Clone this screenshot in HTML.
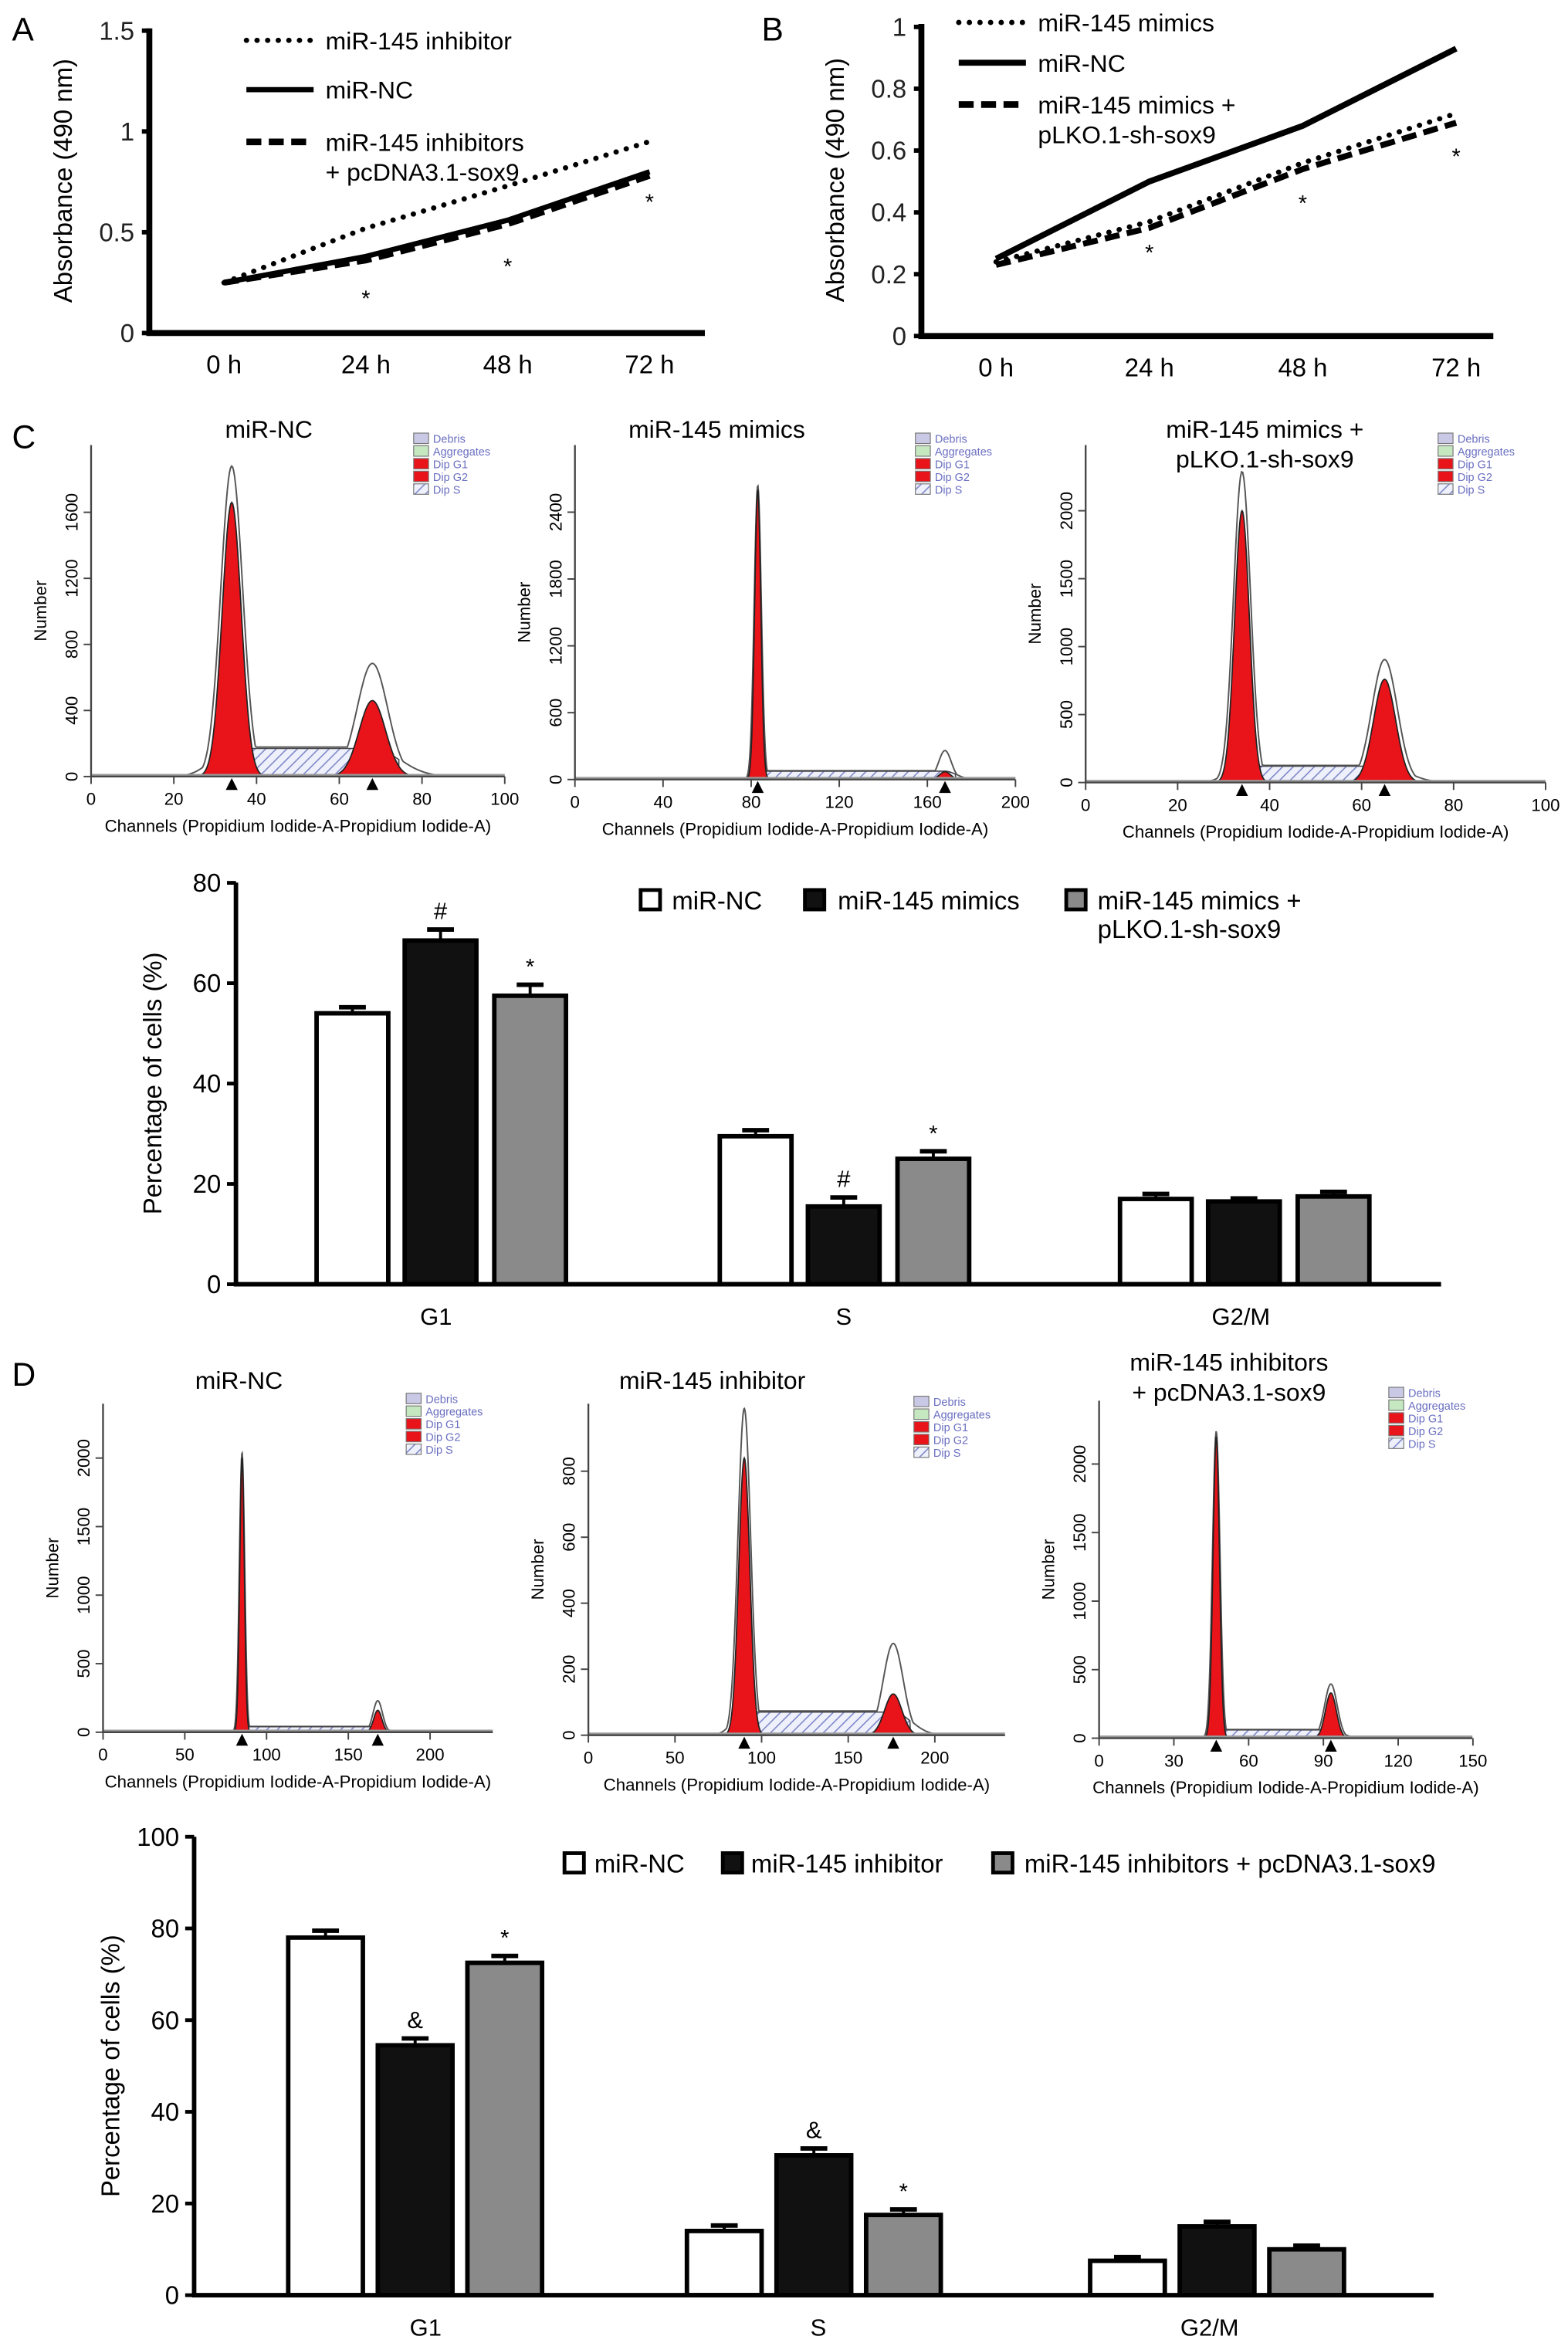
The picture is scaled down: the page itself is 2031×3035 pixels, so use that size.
<!DOCTYPE html>
<html><head><meta charset="utf-8"><style>
html,body{margin:0;padding:0;background:#fff}
svg{display:block;font-family:"Liberation Sans",Arial,sans-serif}
</style></head><body>
<svg id="fig" width="2031" height="3035" viewBox="0 0 1050 1569" xmlns="http://www.w3.org/2000/svg">
<defs>
<pattern id="hatch" width="5" height="5" patternUnits="userSpaceOnUse" patternTransform="rotate(45)">
<rect width="5" height="5" fill="#eef0fb"/><line x1="0" y1="0" x2="0" y2="5" stroke="#7d86c8" stroke-width="1.6"/></pattern>
</defs>
<g id="root"></g>
</svg>
<script>
// ---------- Data ----------
const timeLabels = ['0 h','24 h','48 h','72 h'];
const aInhibitor = [0.25,0.52,0.73,0.95];
const aNC = [0.25,0.38,0.56,0.80];
const aInhibSox9 = [0.25,0.36,0.54,0.78];
const aTicks = [0,0.5,1,1.5];
const aTickLabels = ['0','0.5','1','1.5'];
const bMimics = [0.24,0.37,0.56,0.72];
const bNC = [0.25,0.50,0.68,0.93];
const bMimicsSh = [0.23,0.35,0.54,0.69];
const bTicks = [0,0.2,0.4,0.6,0.8,1];
const bTickLabels = ['0','0.2','0.4','0.6','0.8','1'];
const phases = ['G1','S','G2/M'];
const cNC = [54,29.5,17];
const cMimics = [68.5,15.5,16.5];
const cMimicsSh = [57.5,25,17.5];
const cErr = [[1.2,2.2,2.2],[1.2,1.8,1.5],[1,0.6,0.9]];
const cMarks = [['','#','*'],['','#','*'],['','','']];
const cTicks = [0,20,40,60,80];
const dNC = [78,14,7.5];
const dInhib = [54.5,30.5,15];
const dInhibSox9 = [72.5,17.5,10];
const dErr = [[1.5,1.5,1.5],[1.2,1.5,1.2],[0.8,1,0.8]];
const dMarks = [['','&','*'],['','&','*'],['','','']];
const dTicks = [0,20,40,60,80,100];
// histogram params [G1 ch, G1 fit count, G1 sd, G2 ch, G2 fit count, G2 sd, S level, G1 raw peak, G2 raw peak]
const hC1 = [34,1660,2.3,68,460,3.2,170,1880,685];
const hC2 = [83,2600,1.4,168,70,2.5,75,2640,260];
const hC3 = [34,2000,1.6,65,760,2.4,120,2290,905];
const hD1 = [85,2000,1.4,168,160,2.5,40,2040,230];
const hD2 = [90,840,3.2,176,125,5,70,990,278];
const hD3 = [47,2200,1.3,93,330,2.2,60,2240,395];

const NS='http://www.w3.org/2000/svg';
const root=document.getElementById('root');
function mk(tag,attrs,parent,txt){const e=document.createElementNS(NS,tag);for(const k in attrs)e.setAttribute(k,attrs[k]);if(txt!==undefined)e.textContent=txt;(parent||root).appendChild(e);return e;}
function txt(x,y,s,size,name,extra){const e=mk('text',Object.assign({x:x,y:y,'font-size':size},extra||{}),root,s);


return e;}

[['A',8,27],['B',510,27],['C',8,300],['D',8,928]].forEach(p=>{txt(p[1],p[2],p[0],22,'panel-label-'+p[0].toLowerCase());});

// ---------- Line charts ----------
function lineChart(cfg){
 const xs=i=>cfg.x0+i*cfg.dx; const ys=v=>cfg.y0-v*cfg.ppu;
 const ax=mk('path',{d:`M${cfg.ax} ${cfg.top} V${cfg.y0} H${cfg.xend}`,fill:'none',stroke:'#000','stroke-width':4});
 
 
 cfg.ticks.forEach((t,i)=>{mk('line',{x1:cfg.ax-5,x2:cfg.ax,y1:ys(t),y2:ys(t),stroke:'#000','stroke-width':3});
  txt(cfg.ax-10,ys(t)+6,cfg.tickLabels[i],17,cfg.id+'-y-tick',{'text-anchor':'end',fill:'#222'});});
 timeLabels.forEach((l,i)=>txt(xs(i),cfg.y0+27,l,17,cfg.id+'-x-tick',{'text-anchor':'middle'}));
 txt(0,0,'Absorbance (490 nm)',17,cfg.id+'-y-axis-title',{'text-anchor':'middle',transform:`translate(${cfg.ax-52},${(cfg.top+cfg.y0)/2}) rotate(-90)`});
 cfg.series.forEach(s=>{
  const pts=s.v.map((v,i)=>xs(i)+','+ys(v)).join(' ');
  const a={points:pts,fill:'none',stroke:'#000','stroke-width':s.w,'stroke-linecap':s.cap||'butt'};
  if(s.dash)a['stroke-dasharray']=s.dash;
  const pl=mk('polyline',a);
  
  
 });
 cfg.stars.forEach(st=>txt(xs(st[0]),ys(st[1])+5,'*',15,cfg.id+'-significance',{'text-anchor':'middle'}));
 cfg.legend.forEach(l=>{const a={x1:l.x,x2:l.x+45,y1:l.y,y2:l.y,stroke:'#000','stroke-width':l.w,'stroke-linecap':l.cap||'butt'};if(l.dash)a['stroke-dasharray']=l.dash;
  const ln=mk('line',a);
  
  
  l.t.forEach((t,j)=>txt(l.x+53,l.y+6+j*20,t,16.5,'legend-entry'));});
}
lineChart({id:'panel-a',ax:100,top:19,y0:223,xend:472,x0:150,dx:95,ppu:135,ticks:aTicks,tickLabels:aTickLabels,
 series:[{v:aInhibitor,w:3.5,dash:'0.1 7',cap:'round',name:'series-mir145-inhibitor'},{v:aNC,w:3.5,name:'series-mir-nc-a'},{v:aInhibSox9,w:4,dash:'10 5',name:'series-inhibitor-sox9'}],
 stars:[[1,0.17],[2,0.33],[3,0.65]],
 legend:[{x:165,y:27,w:3.5,dash:'0.1 7',cap:'round',t:['miR-145 inhibitor']},{x:165,y:60,w:3.5,t:['miR-NC']},{x:165,y:95,w:4.5,dash:'10 5',t:['miR-145 inhibitors','+ pcDNA3.1-sox9']}]});
lineChart({id:'panel-b',ax:617,top:16,y0:225,xend:1000,x0:667,dx:102.7,ppu:207,ticks:bTicks,tickLabels:bTickLabels,
 series:[{v:bMimics,w:3.5,dash:'0.1 7',cap:'round',name:'series-mir145-mimics'},{v:bNC,w:4,name:'series-mir-nc-b'},{v:bMimicsSh,w:4,dash:'10 5',name:'series-mimics-sh-sox9'}],
 stars:[[1,0.27],[2,0.43],[3,0.58]],
 legend:[{x:642,y:15,w:3.5,dash:'0.1 7',cap:'round',t:['miR-145 mimics']},{x:642,y:42,w:4,t:['miR-NC']},{x:642,y:70,w:4.5,dash:'10 5',t:['miR-145 mimics +','pLKO.1-sh-sox9']}]});

// ---------- Histograms ----------
function hist(cfg){
 const p=cfg.p; const X=c=>cfg.x0+c*cfg.sx; const Y=n=>cfg.y0-n*cfg.sy;
 const g=(c,m,h,s)=>h*Math.exp(-((c-m)*(c-m))/(2*s*s));
 const sband=c=>(c>p[0]&&c<p[3])?p[6]:(c<=p[0]?p[6]*Math.exp(-(p[0]-c)*(p[0]-c)/(2*p[2]*p[2]*4)):p[6]*Math.exp(-(c-p[3])*(c-p[3])/(2*p[5]*p[5]*4)));
 // raw outline (behind)
 let od=''; const c0=p[0]-6*p[2], c1=p[3]+6*p[5];
 for(let c=c0;c<=c1;c+=0.25){const v=Math.max(g(c,p[0],p[7],p[2]*1.15),g(c,p[3],p[8],p[5]*1.15),sband(c)*1.05);od+=(od?' L':'M')+X(c)+' '+Y(v);}
 const ol=mk('path',{d:od,fill:'none',stroke:'#555','stroke-width':1});
 
 
 let d=`M${X(p[0]-2*p[2])} ${cfg.y0}`; for(let c=p[0]-2*p[2];c<=p[3]+2*p[5];c+=0.5)d+=` L${X(c)} ${Y(sband(c))}`; d+=` L${X(p[3]+2*p[5])} ${cfg.y0}Z`;
 const sh=mk('path',{d:d,fill:'url(#hatch)',stroke:'#444','stroke-width':0.8});
 
 
 [[0,1,2,'g1'],[3,4,5,'g2']].forEach(k=>{const m=p[k[0]],h=p[k[1]],s=p[k[2]];
  let pd=`M${X(m-4*s)} ${cfg.y0}`; for(let c=m-4*s;c<=m+4*s;c+=s/10)pd+=` L${X(c)} ${Y(g(c,m,h,s))}`; pd+=` L${X(m+4*s)} ${cfg.y0}Z`;
  const pk=mk('path',{d:pd,fill:'#e8141a',stroke:'#222','stroke-width':0.9});
  
  
  mk('path',{d:`M${X(m)-4} ${cfg.y0+9} L${X(m)} ${cfg.y0+1} L${X(m)+4} ${cfg.y0+9}Z`,fill:'#000'});
 });
 mk('line',{x1:cfg.x0,x2:cfg.x1,y1:cfg.y0-1,y2:cfg.y0-1,stroke:'#999','stroke-width':1.5});
 const ax=mk('path',{d:`M${cfg.x0} ${cfg.top} V${cfg.y0} H${cfg.x1}`,fill:'none',stroke:'#444','stroke-width':1.2});
 
 
 cfg.xt.forEach(t=>{mk('line',{x1:X(t),x2:X(t),y1:cfg.y0,y2:cfg.y0+5,stroke:'#444'});txt(X(t),cfg.y0+19,String(t),11.5,cfg.id+'-x-tick',{'text-anchor':'middle'});});
 cfg.yt.forEach(t=>{mk('line',{x1:cfg.x0-5,x2:cfg.x0,y1:Y(t),y2:Y(t),stroke:'#444'});txt(0,0,String(t),11.5,cfg.id+'-y-tick',{'text-anchor':'middle',transform:`translate(${cfg.x0-9},${Y(t)}) rotate(-90)`});});
 txt(0,0,'Number',11.5,cfg.id+'-y-axis-title',{'text-anchor':'middle',transform:`translate(${cfg.x0-30},${(cfg.top+cfg.y0)/2}) rotate(-90)`});
 txt((cfg.x0+cfg.x1)/2,cfg.y0+37,'Channels (Propidium Iodide-A-Propidium Iodide-A)',11.5,cfg.id+'-x-axis-title',{'text-anchor':'middle'});
 cfg.title.forEach((t,j)=>txt(cfg.tx,cfg.ty+j*20,t,16.5,cfg.id+'-title',{'text-anchor':'middle'}));
 const lc=[['Debris','#c9c9e6'],['Aggregates','#c6e8c0'],['Dip G1','#e8141a'],['Dip G2','#e8141a'],['Dip S','url(#hatch)']];
 lc.forEach((l,j)=>{mk('rect',{x:cfg.lx,y:cfg.ly+j*8.5,width:10,height:7,fill:l[1],stroke:'#777','stroke-width':0.6});
  txt(cfg.lx+13,cfg.ly+j*8.5+6.5,l[0],7.5,'histogram-legend-entry',{fill:'#6a6fc0'});});
}
hist({id:'hist-c-nc',p:hC1,x0:61,x1:338,sx:2.77,y0:520,sy:0.1106,top:298,xt:[0,20,40,60,80,100],yt:[0,400,800,1200,1600],title:['miR-NC'],tx:180,ty:293,lx:277,ly:290});
hist({id:'hist-c-mimics',p:hC2,x0:385,x1:680,sx:1.475,y0:522,sy:0.0746,top:298,xt:[0,40,80,120,160,200],yt:[0,600,1200,1800,2400],title:['miR-145 mimics'],tx:480,ty:293,lx:613,ly:290});
hist({id:'hist-c-mimics-sh',p:hC3,x0:727,x1:1035,sx:3.08,y0:524,sy:0.091,top:298,xt:[0,20,40,60,80,100],yt:[0,500,1000,1500,2000],title:['miR-145 mimics +','pLKO.1-sh-sox9'],tx:847,ty:293,lx:963,ly:290});
hist({id:'hist-d-nc',p:hD1,x0:69,x1:330,sx:1.095,y0:1160,sy:0.0918,top:940,xt:[0,50,100,150,200],yt:[0,500,1000,1500,2000],title:['miR-NC'],tx:160,ty:930,lx:272,ly:933});
hist({id:'hist-d-inhibitor',p:hD2,x0:394,x1:673,sx:1.16,y0:1162,sy:0.221,top:940,xt:[0,50,100,150,200],yt:[0,200,400,600,800],title:['miR-145 inhibitor'],tx:477,ty:930,lx:612,ly:935});
hist({id:'hist-d-inhibitor-sox9',p:hD3,x0:736,x1:986,sx:1.669,y0:1164,sy:0.0918,top:938,xt:[0,30,60,90,120,150],yt:[0,500,1000,1500,2000],title:['miR-145 inhibitors','+ pcDNA3.1-sox9'],tx:823,ty:918,lx:930,ly:929});

// ---------- Bar charts ----------
function barChart(cfg){
 const Y=v=>cfg.y0-v*cfg.ppu;
 const fills=['#fff','#111','#8a8a8a'];
 cfg.series.forEach((s,si)=>s.forEach((v,gi)=>{
  const cx=cfg.centers[gi]+cfg.offs[si];
  const e=cfg.err[gi][si];
  mk('line',{x1:cx,x2:cx,y1:Y(v),y2:Y(v+e),stroke:'#000','stroke-width':2});
  mk('line',{x1:cx-9,x2:cx+9,y1:Y(v+e),y2:Y(v+e),stroke:'#000','stroke-width':3});
  const r=mk('rect',{x:cx-cfg.bw/2,y:Y(v),width:cfg.bw,height:v*cfg.ppu,fill:fills[si],stroke:'#000','stroke-width':3});
  
  
  const m=cfg.marks[gi][si]; if(m)txt(cx,Y(v+e)-7,m,m==='*'?15:16,'significance-mark',{'text-anchor':'middle'});
 }));
 const ax=mk('path',{d:`M${cfg.ax} ${cfg.top} V${cfg.y0} H${cfg.xend}`,fill:'none',stroke:'#000','stroke-width':3});
 
 
 cfg.ticks.forEach(t=>{mk('line',{x1:cfg.ax-6,x2:cfg.ax,y1:Y(t),y2:Y(t),stroke:'#000','stroke-width':2.5});txt(cfg.ax-10,Y(t)+6,String(t),17,cfg.id+'-y-tick',{'text-anchor':'end'});});
 phases.forEach((p,i)=>txt(cfg.labelX[i],cfg.y0+27,p,16,cfg.id+'-x-tick',{'text-anchor':'middle'}));
 txt(0,0,'Percentage of cells (%)',17,cfg.id+'-y-axis-title',{'text-anchor':'middle',transform:`translate(${cfg.ax-50},${(cfg.top+cfg.y0)/2}) rotate(-90)`});
 cfg.legend.forEach((l,i)=>{mk('rect',{x:l[0],y:cfg.ly-7,width:13,height:13,fill:fills[i],stroke:'#000','stroke-width':2.5});
  l[2].forEach((t,j)=>txt(l[1],cfg.ly+6+j*19,t,17,'legend-entry'));});
}
barChart({id:'bar-c',ax:158,top:591,y0:860,xend:965,ppu:3.36,bw:48,centers:[295,565,833],offs:[-59,0,60],labelX:[292,565,831],
 series:[cNC,cMimics,cMimicsSh],err:cErr,names:['mir-nc','mimics','mimics-sh-sox9'],marks:cMarks,ticks:cTicks,ly:603,
 legend:[[429,450,['miR-NC']],[539,561,['miR-145 mimics']],[714,735,['miR-145 mimics +','pLKO.1-sh-sox9']]]});
barChart({id:'bar-d',ax:130,top:1230,y0:1537,xend:960,ppu:3.07,bw:50,centers:[278,545,815],offs:[-60,0,60],labelX:[285,548,810],
 series:[dNC,dInhib,dInhibSox9],err:dErr,names:['mir-nc','inhibitor','inhibitor-sox9'],marks:dMarks,ticks:dTicks,ly:1248,
 legend:[[378,398,['miR-NC']],[484,503,['miR-145 inhibitor']],[665,686,['miR-145 inhibitors + pcDNA3.1-sox9']]]});
</script>
</body></html>
